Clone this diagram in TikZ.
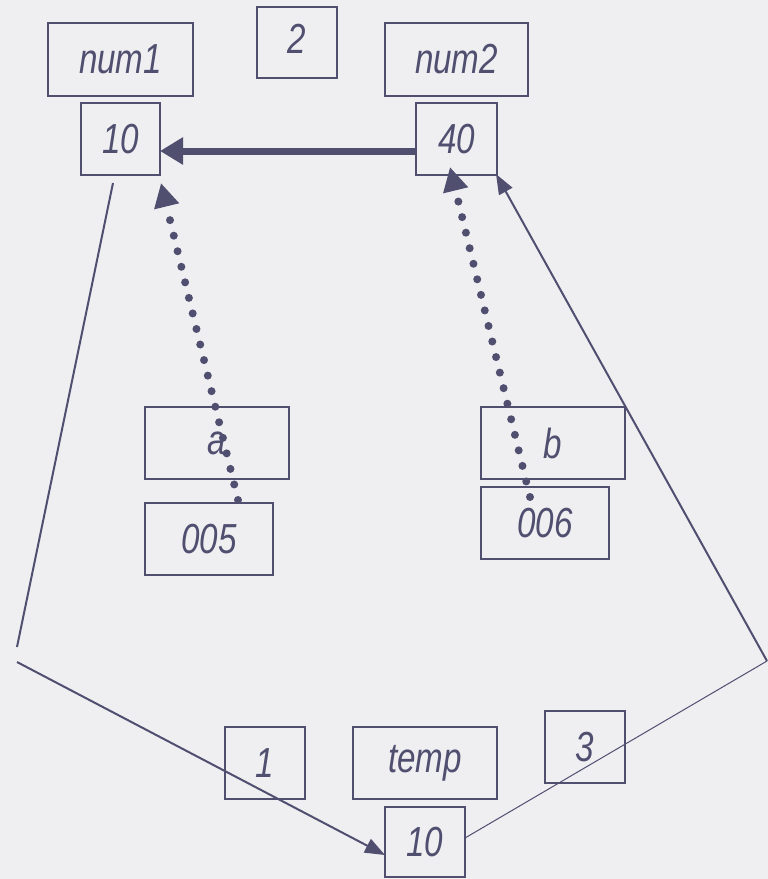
\documentclass[tikz,border=0pt]{standalone}
\usepackage{fontspec}
\setmainfont{Liberation Sans}
\newfontfamily\cellfont[FakeStretch=0.79]{Liberation Sans}
\usetikzlibrary{arrows.meta}
\definecolor{ink}{RGB}{80,79,112}
\definecolor{paper}{RGB}{239,239,242}
\tikzset{
  cell/.style={draw=ink, line width=2pt, inner sep=0pt, text=ink,
    font=\cellfont\fontsize{42}{50}\selectfont\itshape},
  heavy/.style={draw=ink, line width=7pt, -{Triangle[length=23pt,width=26pt]}},
  dotty/.style={draw=ink, line width=8pt, line cap=round,
    dash pattern=on 0pt off 16pt, -{Triangle[length=24pt,width=24pt]}},
  thin/.style={draw=ink, line width=2pt},
  hair/.style={draw=ink, line width=1pt},
  tip/.style={-{Triangle[length=20pt,width=15pt]}}
}
\begin{document}
\begin{tikzpicture}[x=1pt,y=-1pt]
  \fill[paper] (0,0) rectangle (768,879);
  \useasboundingbox (0,0) rectangle (768,879);

  % variable names and their values
  \node[cell, minimum width=145pt, minimum height=73pt] (num1) at (120.5,59) {num1};
  \node[cell, minimum width=80pt, minimum height=71pt] (two) at (297,42.5) {\raisebox{8pt}{2}};
  \node[cell, minimum width=143pt, minimum height=73pt] (num2) at (456.5,59) {num2};
  \node[cell, minimum width=79pt, minimum height=72pt] (v1) at (120.5,139) {10};
  \node[cell, minimum width=81pt, minimum height=72pt] (v2) at (456.5,139) {40};

  % pointers a and b
  \node[cell, minimum width=144pt, minimum height=72pt] (a) at (217,443) {a};
  \node[cell, minimum width=128pt, minimum height=72pt] (p5) at (209,539) {005};
  \node[cell, minimum width=144pt, minimum height=72pt] (b) at (553,443) {b};
  \node[cell, minimum width=128pt, minimum height=72pt] (p6) at (545,523) {006};

  % the temporary
  \node[cell, minimum width=80pt, minimum height=72pt] (one) at (265,763) {1};
  \node[cell, minimum width=144pt, minimum height=72pt] (temp) at (425,763) {temp};
  \node[cell, minimum width=80pt, minimum height=72pt] (three) at (585,747) {3};
  \node[cell, minimum width=80pt, minimum height=70pt] (tv) at (425,842) {10};

  % corner points of the swap route
  \coordinate (v1out) at (113,183);
  \coordinate (lcA) at (17,647);
  \coordinate (lcB) at (17,662);
  \coordinate (rc) at (767,661);
  \coordinate (tvout) at (465,838);
  \coordinate (aout) at (238,500);
  \coordinate (aend) at (161,183);
  \coordinate (bout) at (530,497);
  \coordinate (bend) at (450,167);
  \coordinate (tvin) at (385,855);
  \coordinate (v2in) at (496,174);
  \coordinate (v2left) at (416,151);
  \coordinate (v1right) at (160,151);

  % step 2: copy num2 into num1
  \draw[heavy] (v2left) -- (v1right);

  % pointers
  \draw[dotty] (aout) -- (aend);
  \draw[dotty] (bout) -- (bend);

  % step 1: num1 to temp
  \draw[thin] (v1out) -- (lcA);
  \draw[thin, tip] (lcB) -- (tvin);

  % step 3: temp to num2
  \draw[hair] (tvout) -- (rc);
  \draw[thin, tip] (rc) -- (v2in);
\end{tikzpicture}
\end{document}
